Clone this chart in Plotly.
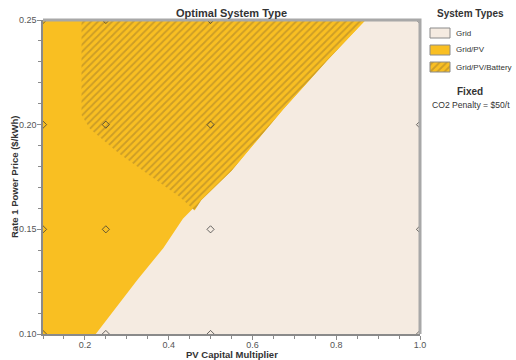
import plotly.graph_objects as go

# ---------------- data ----------------
x_range = [0.1, 1.0]          # PV Capital Multiplier
y_range = [0.10, 0.25]        # Rate 1 Power Price ($/kWh)

# boundary between Grid/PV (left) and Grid (right)
grid_boundary_mult = [0.226, 0.326, 0.387, 0.434, 0.478, 0.550, 0.629, 0.672, 0.780, 0.870]
grid_boundary_price = [0.100, 0.126, 0.141, 0.155, 0.164, 0.178, 0.197, 0.207, 0.231, 0.250]

# boundary between Grid/PV (below-left) and Grid/PV/Battery (above)
battery_boundary_mult = [0.192, 0.192, 0.212, 0.283, 0.355, 0.426, 0.462]
battery_boundary_price = [0.250, 0.2046, 0.198, 0.186, 0.1757, 0.1656, 0.159]

# simulated sample points
sample_mult = [0.1, 0.25, 0.5, 1.0]
sample_price = [0.10, 0.15, 0.20, 0.25]

x_tickvals = [0.2, 0.4, 0.6, 0.8, 1.0]
x_ticktext = ["0.2", "0.4", "0.6", "0.8", "1.0"]
y_tickvals = [0.10, 0.15, 0.20, 0.25]
y_ticktext = ["0.10", "0.15", "0.20", "0.25"]

legend_labels = ["Grid", "Grid/PV", "Grid/PV/Battery"]

# ---------------- styles ----------------
W, H = 516, 360
C_GRID = "#F5EBE1"
C_PV = "#F9BF22"
C_HATCH = "#CC9D26"
FONT = "Liberation Sans"
PLOT_L, PLOT_R, PLOT_T, PLOT_B = 43, 420, 20, 334

fig = go.Figure()

# Grid region (whole domain)
fig.add_trace(go.Scatter(x=[x_range[0], x_range[1], x_range[1], x_range[0]],
                         y=[y_range[0], y_range[0], y_range[1], y_range[1]],
                         fill="toself", mode="lines", line=dict(width=0, color=C_GRID),
                         fillcolor=C_GRID, hoverinfo="skip", showlegend=False))

# Grid/PV region
pv_x = [x_range[0]] + grid_boundary_mult + [x_range[0]]
pv_y = [y_range[0]] + grid_boundary_price + [y_range[1]]
fig.add_trace(go.Scatter(x=pv_x, y=pv_y, fill="toself", mode="lines",
                         line=dict(width=0, color=C_PV), fillcolor=C_PV,
                         hoverinfo="skip", showlegend=False))

# Grid/PV/Battery region
start_price = battery_boundary_price[-1]
bx = list(battery_boundary_mult)
by = list(battery_boundary_price)
for m, p in zip(grid_boundary_mult, grid_boundary_price):
    if p > start_price:
        bx.append(m)
        by.append(p)
bx.append(battery_boundary_mult[0])
by.append(battery_boundary_price[0])
fig.add_trace(go.Scatter(x=bx, y=by, fill="toself", mode="lines",
                         line=dict(width=0, color=C_PV),
                         fillpattern=dict(shape="/", bgcolor=C_PV, fgcolor=C_HATCH,
                                          size=5, solidity=0.35),
                         hoverinfo="skip", showlegend=False))

# sample points
px, py = [], []
for p in sample_price:
    for m in sample_mult:
        px.append(m)
        py.append(p)
fig.add_trace(go.Scatter(x=px, y=py, mode="markers",
                         marker=dict(symbol="diamond-open", size=5.5,
                                     color="rgba(55,55,55,0.75)", line=dict(width=1)),
                         cliponaxis=True, hoverinfo="skip", showlegend=False))

# ---------------- manual legend (pixel coordinate overlay axes) ----------------
sw_x0, sw_w, sw_h = 430, 20, 10
row_y = [33, 50, 67]
sw_fill = [C_GRID, C_PV, C_PV]
for i, lab in enumerate(legend_labels):
    yc = row_y[i]
    kw = {}
    if i == 2:
        kw["fillpattern"] = dict(shape="/", bgcolor=C_PV, fgcolor=C_HATCH, size=5, solidity=0.35)
    fig.add_trace(go.Scatter(
        x=[sw_x0, sw_x0 + sw_w, sw_x0 + sw_w, sw_x0, sw_x0],
        y=[yc - sw_h / 2, yc - sw_h / 2, yc + sw_h / 2, yc + sw_h / 2, yc - sw_h / 2],
        xaxis="x2", yaxis="y2", fill="toself", fillcolor=sw_fill[i], mode="lines",
        line=dict(color="#8a8a8a", width=1), hoverinfo="skip", showlegend=False, **kw))

def pxx(v):
    return v / W

def pxy(v):
    return 1 - v / H

ann = []
ann.append(dict(text="<b>System Types</b>", x=pxx(470), y=pxy(14), xref="paper", yref="paper",
                showarrow=False, font=dict(size=10, color="#333", family=FONT),
                xanchor="center", yanchor="middle"))
for i, lab in enumerate(legend_labels):
    ann.append(dict(text=lab, x=pxx(454), y=pxy(row_y[i]), xref="paper", yref="paper",
                    showarrow=False, font=dict(size=8, color="#333", family=FONT),
                    xanchor="left", yanchor="middle"))
ann.append(dict(text="<b>Fixed</b>", x=pxx(470), y=pxy(91), xref="paper", yref="paper",
                showarrow=False, font=dict(size=10, color="#333", family=FONT),
                xanchor="center", yanchor="middle"))
ann.append(dict(text="CO2 Penalty = $50/t", x=pxx(430), y=pxy(105), xref="paper", yref="paper",
                showarrow=False, font=dict(size=8.6, color="#333", family=FONT),
                xanchor="left", yanchor="middle"))
# title and axis titles
ann.append(dict(text="<b>Optimal System Type</b>", x=pxx((PLOT_L + PLOT_R) / 2), y=pxy(13),
                xref="paper", yref="paper", showarrow=False,
                font=dict(size=11, color="#333", family=FONT), xanchor="center", yanchor="middle"))
ann.append(dict(text="<b>PV Capital Multiplier</b>", x=pxx((PLOT_L + PLOT_R) / 2), y=pxy(354),
                xref="paper", yref="paper", showarrow=False,
                font=dict(size=9.5, color="#333", family=FONT), xanchor="center", yanchor="middle"))
ann.append(dict(text="<b>Rate 1 Power Price ($/kWh)</b>", x=pxx(14), y=pxy((PLOT_T + PLOT_B) / 2),
                xref="paper", yref="paper", showarrow=False, textangle=-90,
                font=dict(size=9.5, color="#333", family=FONT), xanchor="center", yanchor="middle"))

axis_common = dict(showgrid=False, zeroline=False, showline=True, linecolor="#8a8a8a",
                   linewidth=1.5, ticks="outside", ticklen=4, tickcolor="#8a8a8a",
                   tickwidth=1, tickfont=dict(size=9, color="#555", family=FONT),
                   automargin=False, fixedrange=True)

fig.update_layout(
    width=W, height=H, template="none",
    margin=dict(l=0, r=0, t=0, b=0, pad=0),
    paper_bgcolor="white", plot_bgcolor="rgba(0,0,0,0)",
    showlegend=False,
    xaxis=dict(domain=[PLOT_L / W, PLOT_R / W], range=x_range, tickmode="array",
               tickvals=x_tickvals, ticktext=x_ticktext, ticklabelstandoff=-3,
               minor=dict(tickmode="linear", tick0=0, dtick=0.05, ticks="outside",
                          ticklen=3, tickcolor="#8a8a8a", showgrid=False),
               **axis_common),
    yaxis=dict(domain=[1 - PLOT_B / H, 1 - PLOT_T / H], range=y_range, tickmode="array",
               tickvals=y_tickvals, ticktext=y_ticktext, ticklabelstandoff=-1,
               minor=dict(tickmode="linear", tick0=0, dtick=0.01, ticks="outside",
                          ticklen=3, tickcolor="#8a8a8a", showgrid=False),
               **axis_common),
    xaxis2=dict(domain=[0, 1], range=[0, W], visible=False, fixedrange=True, anchor="y2"),
    yaxis2=dict(domain=[0, 1], range=[H, 0], visible=False, fixedrange=True, anchor="x2"),
    annotations=ann,
    shapes=[dict(type="path", xref="x domain", yref="y domain", path="M 0,1 L 1,1 L 1,0",
                 line=dict(color="#a8a8a8", width=3), layer="above")],
)

fig.write_html("out.html", config={"displayModeBar": False})
